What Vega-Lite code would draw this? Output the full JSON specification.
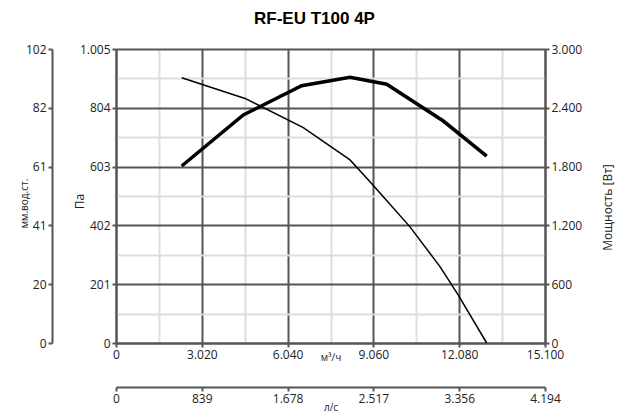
{
  "$schema": "https://vega.github.io/schema/vega-lite/v6.json",
  "width": 429,
  "height": 294,
  "autosize": {"type": "none"},
  "padding": {"left": 116, "top": 49, "right": 82, "bottom": 69},
  "background": "white",
  "title": {"text": "RF-EU T100 4P", "font": "Liberation Sans", "fontSize": 17, "fontWeight": "bold", "color": "#000", "anchor": "middle", "frame": "group", "dx": -16, "baseline": "alphabetic", "offset": 2},
  "datasets": {
    "pressure": [
      {"q": 2313, "pa": 907},
      {"q": 4541, "pa": 836},
      {"q": 6593, "pa": 736},
      {"q": 8237, "pa": 626},
      {"q": 8940, "pa": 551},
      {"q": 9409, "pa": 500},
      {"q": 10348, "pa": 397},
      {"q": 11404, "pa": 261},
      {"q": 12048, "pa": 164},
      {"q": 13048, "pa": 0}
    ],
    "power": [
      {"q": 2313, "w": 1806},
      {"q": 4481, "w": 2327},
      {"q": 6536, "w": 2626},
      {"q": 8237, "w": 2711},
      {"q": 9528, "w": 2640},
      {"q": 11521, "w": 2265},
      {"q": 13048, "w": 1908}
    ]
  },
  "config": {
    "view": {"stroke": null},
    "axis": {
      "labelFont": "Open Sans", "labelFontSize": 12, "labelColor": "#222", "labelFlush": false,
      "titleFont": "Open Sans", "titleFontWeight": "normal", "titleColor": "#222", "titleFontSize": 12,
      "domainColor": "#555", "domainWidth": 2, "tickColor": "#555", "tickWidth": 2, "tickSize": 4, "labelPadding": 2
    }
  },
  "layer": [
    {
      "data": {"name": "pressure"},
      "mark": {"type": "line", "opacity": 0},
      "encoding": {
        "x": {"field": "q", "type": "quantitative", "scale": {"domain": [0, 15100], "nice": false, "zero": true},
          "axis": {"orient": "bottom", "values": [1510, 4530, 7550, 10570, 13590], "grid": true, "gridColor": "#dddddd", "gridWidth": 2, "labels": false, "ticks": false, "domain": false, "title": null}},
        "y": {"field": "pa", "type": "quantitative", "scale": {"domain": [0, 1005], "nice": false},
          "axis": {"orient": "left", "values": [100.5, 301.5, 502.5, 703.5, 904.5], "grid": true, "gridColor": "#dddddd", "gridWidth": 2, "labels": false, "ticks": false, "domain": false, "title": null}}
      }
    },
    {
      "data": {"name": "pressure"},
      "mark": {"type": "line", "color": "#000", "strokeWidth": 1.5},
      "encoding": {
        "x": {"field": "q", "type": "quantitative", "scale": {"domain": [0, 15100], "nice": false},
          "axis": {"orient": "bottom", "values": [0, 3020, 6040, 9060, 12080, 15100], "grid": true, "gridColor": "#555555", "gridWidth": 2,
            "labelExpr": "replace(format(datum.value, ',d'), ',', '.')", "title": "м³/ч", "titleFontSize": 10, "titleY": 17, "titleBaseline": "alphabetic"}},
        "y": {"field": "pa", "type": "quantitative", "scale": {"domain": [0, 1005], "nice": false},
          "axis": {"orient": "left", "values": [0, 201, 402, 603, 804, 1005], "grid": true, "gridColor": "#555555", "gridWidth": 2,
            "labelExpr": "replace(format(datum.value, ',d'), ',', '.')", "title": "Па", "titleX": -37, "titleY": 152, "titleAngle": -90, "titleAlign": "center", "titleBaseline": "middle"}}
      }
    },
    {
      "data": {"name": "power"},
      "mark": {"type": "line", "color": "#000", "strokeWidth": 3.5},
      "encoding": {
        "x": {"field": "q", "type": "quantitative", "scale": {"domain": [0, 15100], "nice": false}, "axis": null},
        "y": {"field": "w", "type": "quantitative", "scale": {"domain": [0, 3000], "nice": false},
          "axis": {"orient": "right", "values": [0, 600, 1200, 1800, 2400, 3000], "grid": false,
            "labelExpr": "replace(format(datum.value, ',d'), ',', '.')", "title": "Мощность [Вт]", "titleX": 62, "titleY": 158, "titleAngle": -90, "titleAlign": "center", "titleBaseline": "middle"}}
      }
    },
    {
      "data": {"name": "pressure"},
      "mark": {"type": "line", "opacity": 0},
      "encoding": {
        "x": {"field": "q", "type": "quantitative", "scale": {"domain": [0, 15100], "nice": false}, "axis": null},
        "y": {"field": "pa", "type": "quantitative", "scale": {"domain": [0, 1005], "nice": false},
          "axis": {"orient": "left", "offset": 64, "values": [0, 201, 402, 603, 804, 1005], "grid": false,
            "labelExpr": "format(datum.value / 9.81, 'd')", "title": "мм.вод.ст.", "titleFontSize": 10, "titleX": -28, "titleY": 154, "titleAngle": -90, "titleAlign": "center", "titleBaseline": "middle"}}
      }
    },
    {
      "data": {"name": "pressure"},
      "mark": {"type": "line", "opacity": 0},
      "encoding": {
        "x": {"field": "q", "type": "quantitative", "scale": {"domain": [0, 15100], "nice": false},
          "axis": {"orient": "bottom", "offset": 44, "values": [0, 3020, 6040, 9060, 12080, 15100], "grid": false,
            "labelExpr": "replace(format(datum.value / 3.6, ',d'), ',', '.')", "title": "л/с", "titleFontSize": 10, "titleY": 23, "titleBaseline": "alphabetic"}},
        "y": {"field": "pa", "type": "quantitative", "scale": {"domain": [0, 1005], "nice": false}, "axis": null}
      }
    }
  ],
  "resolve": {"scale": {"x": "independent", "y": "independent"}, "axis": {"x": "independent", "y": "independent"}}
}
